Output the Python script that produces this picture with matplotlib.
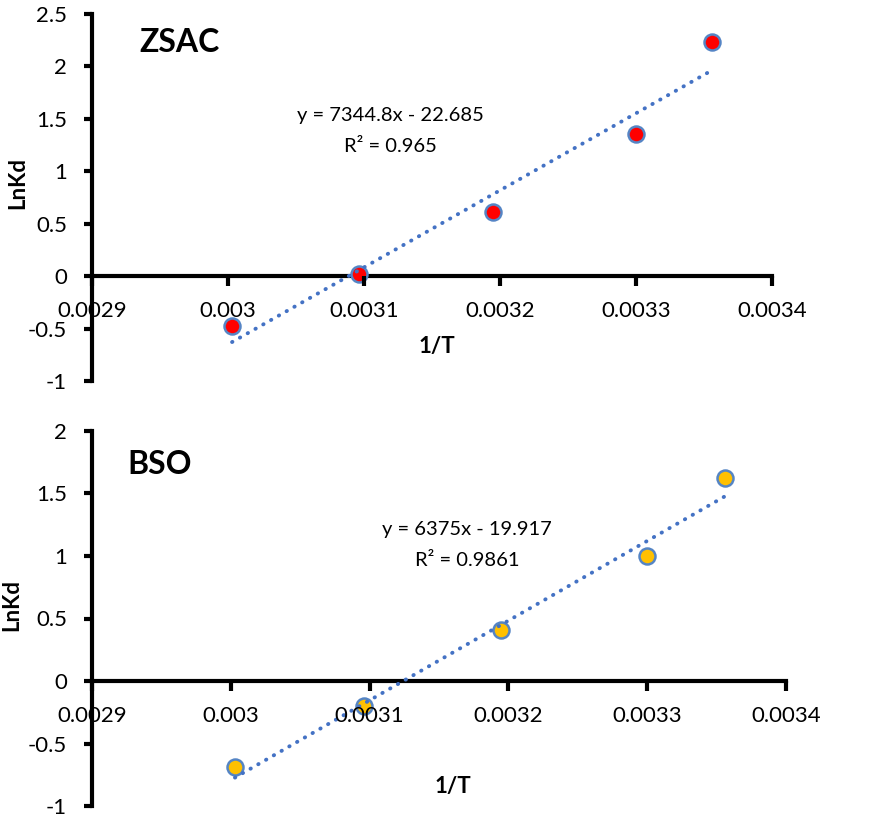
import matplotlib
matplotlib.use('Agg')
import matplotlib.pyplot as plt
import numpy as np

# ---- data ----
inv_T = [0.003003, 0.003096, 0.003195, 0.003300, 0.003356]
lnkd_zsac = [-0.48, 0.02, 0.61, 1.36, 2.23]
lnkd_bso = [-0.69, -0.20, 0.41, 1.00, 1.62]
fit_zsac = (7344.8, -22.685)
fit_bso = (6375.0, -19.917)
eq_zsac = ["y = 7344.8x - 22.685", "R² = 0.965"]
eq_bso = ["y = 6375x - 19.917", "R² = 0.9861"]
x_ticks = [0.0029, 0.0030, 0.0031, 0.0032, 0.0033, 0.0034]
x_tick_labels = ['0.0029', '0.003', '0.0031', '0.0032', '0.0033', '0.0034']
y_ticks_zsac = [-1, -0.5, 0, 0.5, 1, 1.5, 2, 2.5]
y_ticks_bso = [-1, -0.5, 0, 0.5, 1, 1.5, 2]

plt.rcParams['font.family'] = ['Lato', 'DejaVu Sans']
plt.rcParams['axes.unicode_minus'] = False

W, H = 877, 818
fig = plt.figure(figsize=(W / 100, H / 100), dpi=100)


def fx(px):
    return px / W


def fy(py):
    return 1 - py / H


def panel(rect, y, fit, yticks, fill, title, title_xy, eq, eq_xy, xlabel_xy, ylabel_xy):
    l, t, r, b = rect
    ax = fig.add_axes([fx(l), fy(b), fx(r) - fx(l), fy(t) - fy(b)])
    ax.set_xlim(x_ticks[0], x_ticks[-1])
    ax.set_ylim(yticks[0], yticks[-1])
    for s in ['top', 'right']:
        ax.spines[s].set_visible(False)
    ax.spines['bottom'].set_position(('data', 0))
    for s in ['left', 'bottom']:
        ax.spines[s].set_linewidth(3)
        ax.spines[s].set_zorder(2.5)
    ax.set_xticks(x_ticks)
    ax.set_xticklabels(x_tick_labels)
    ax.set_yticks(yticks)
    ax.set_yticklabels(['%g' % v for v in yticks])
    ax.tick_params(axis='y', direction='out', length=6, width=3, pad=12, labelsize=16)
    ax.tick_params(axis='x', direction='out', length=7, width=3, pad=11, labelsize=16)
    ax.xaxis.set_zorder(4)
    ax.patch.set_visible(False)

    ax.plot(inv_T, y, linestyle='none', marker='o', markersize=11.5,
            markerfacecolor=fill, markeredgecolor='#5585C5', markeredgewidth=1.8,
            zorder=3, clip_on=False)
    xs = np.array([inv_T[0], inv_T[-1]])
    ax.plot(xs, fit[0] * xs + fit[1], color='#4472C4', linewidth=2.8,
            linestyle=(0, (0.1, 2.2)), dash_capstyle='round', zorder=3.5)

    fig.text(fx(title_xy[0]), fy(title_xy[1]), title, fontsize=23, fontweight='bold',
             ha='center', va='center')
    fig.text(fx(eq_xy[0]), fy(eq_xy[1]), eq[0], fontsize=14.5, ha='center', va='center')
    fig.text(fx(eq_xy[0]), fy(eq_xy[1] + 31), eq[1], fontsize=14.5, ha='center', va='center')
    fig.text(fx(xlabel_xy[0]), fy(xlabel_xy[1]), '1/T', fontsize=16, fontweight='bold',
             ha='center', va='center')
    fig.text(fx(ylabel_xy[0]), fy(ylabel_xy[1]), 'LnKd', fontsize=16, fontweight='bold',
             ha='center', va='center', rotation=90)
    return ax


panel((92, 14, 772, 381), lnkd_zsac, fit_zsac, y_ticks_zsac, '#FF0000', 'ZSAC', (179, 42),
      eq_zsac, (390, 116), (437, 347), (18, 183))
panel((92, 431, 786, 806), lnkd_bso, fit_bso, y_ticks_bso, '#FFC000', 'BSO', (160, 465),
      eq_bso, (467, 529), (453, 787), (12, 605))

fig.savefig('out.png', dpi=100)
